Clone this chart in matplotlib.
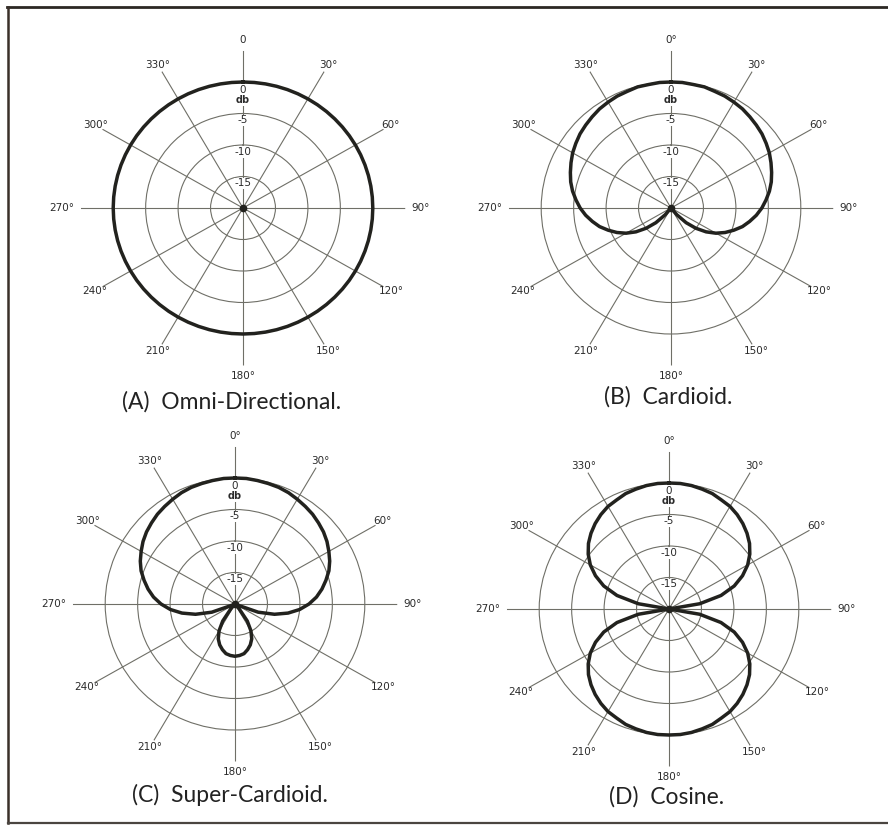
import numpy as np
import matplotlib.pyplot as plt
from matplotlib.lines import Line2D

# relative response in dB, every 5 degrees from 0 to 180 (each pattern is symmetric)
angles_half = np.arange(0, 185, 5)
omni_db = [0.0] * 37
cardioid_db = [0, 0, -0.1, -0.1, -0.3, -0.4, -0.6, -0.8, -1.1, -1.4, -1.7, -2.1,
               -2.5, -3.0, -3.5, -4.0, -4.6, -5.3, -6.0, -6.8, -7.7, -8.6, -9.7,
               -10.8, -12.0, -13.4, -15.0, -16.7, -18.6, -20, -20, -20, -20, -20,
               -20, -20, -20]
supercardioid_db = [0, 0, -0.1, -0.2, -0.3, -0.5, -0.8, -1.1, -1.4, -1.8, -2.2,
                    -2.7, -3.3, -3.9, -4.6, -5.5, -6.4, -7.4, -8.6, -10.0, -11.7,
                    -13.7, -16.2, -19.7, -20, -20, -20, -20, -19.0, -16.7, -15.1,
                    -13.9, -13.1, -12.5, -12.0, -11.8, -11.7]
cosine_db = [0, 0, -0.1, -0.3, -0.5, -0.9, -1.2, -1.7, -2.3, -3.0, -3.8, -4.8,
             -6.0, -7.5, -9.3, -11.7, -15.2, -20, -20, -20, -15.2, -11.7, -9.3,
             -7.5, -6.0, -4.8, -3.8, -3.0, -2.3, -1.7, -1.2, -0.9, -0.5, -0.3,
             -0.1, 0, 0]

spoke_angles = np.arange(0, 360, 30)
labels_plain = ['0', '30°', '60°', '90°', '120°', '150°', '180°', '210°', '240°',
                '270°', '300°', '330°']
labels_deg = ['0°'] + labels_plain[1:]
ring_levels = [0, -5, -10, -15]
ring_texts = ['0', '-5', '-10', '-15']
titles = ['(A)  Omni-Directional.', '(B)  Cardioid.', '(C)  Super-Cardioid.',
          '(D)  Cosine.']

FW, FH = 888, 826
W, H = 324.5, 315.0          # axes box in pixels (slightly wider than tall)
FLOOR = 20                   # -20 dB sits at the centre
GRID = '#6f6f67'
INK = '#22221e'

fig = plt.figure(figsize=(FW / 100, FH / 100), dpi=100)
fig.patch.set_facecolor('white')


def full_circle(vals):
    ang = np.concatenate([angles_half, 360 - angles_half[-2::-1]])
    v = np.concatenate([vals, np.asarray(vals)[-2::-1]])
    return np.deg2rad(ang), np.maximum(v + FLOOR, 0)


def draw_panel(center, db, tick_labels, title, title_xy):
    cx, cy = center
    ax = fig.add_axes([(cx - W / 2) / FW, (FH - cy - H / 2) / FH, W / FW, H / FH],
                      projection='polar')
    ax.set_aspect('auto')
    ax.set_theta_zero_location('N')
    ax.set_theta_direction(-1)
    ax.set_ylim(0, 25)
    ax.set_thetagrids(spoke_angles, labels=[])
    ax.set_rgrids([5, 10, 15, 20], labels=[])
    ax.grid(True, color=GRID, lw=0.8)
    ax.spines['polar'].set_visible(False)
    ax.set_facecolor('none')

    for a, s in zip(spoke_angles, tick_labels):
        th = np.deg2rad(a)
        if a == 90:
            ax.text(th, 26.0, s, ha='left', va='center', fontsize=7.5, color='#2a2a2a')
        elif a == 270:
            ax.text(th, 26.0, s, ha='right', va='center', fontsize=7.5, color='#2a2a2a')
        else:
            r = 26.6 if a in (0, 180) else 26.3
            ax.text(th, r, s, ha='center', va='center', fontsize=7.5, color='#2a2a2a')

    box = dict(boxstyle='square,pad=0.08', fc='white', ec='none')
    for lev, s in zip(ring_levels, ring_texts):
        r = lev + FLOOR - 1.3 if lev == 0 else lev + FLOOR - 1.1
        ax.text(0, r, s, ha='center', va='center', fontsize=7.5, color='#2a2a2a',
                bbox=box, zorder=4)
    ax.text(0, 17.1, 'db', ha='center', va='center', fontsize=7, fontweight='bold',
            color='#2a2a2a', bbox=box, zorder=4)

    th, r = full_circle(db)
    ax.plot(th, r, color=INK, lw=2.5, solid_joinstyle='round', zorder=5)
    ax.plot([0], [0], 'o', color=INK, ms=4.5, zorder=6)

    fig.text(title_xy[0] / FW, 1 - title_xy[1] / FH, title, ha='center', va='center',
             fontsize=16.5, family='Lato', color='#222222')


draw_panel((243, 208), omni_db, labels_plain, titles[0], (232, 402))
draw_panel((671, 208), cardioid_db, labels_deg, titles[1], (668, 397))
draw_panel((235, 604), supercardioid_db, labels_deg, titles[2], (230, 795))
draw_panel((669, 609), cosine_db, labels_deg, titles[3], (667, 797))

# outer border
for xs, ys, c, w in [([7, 888], [7, 7], '#2c2824', 2.0),
                     ([8, 8], [7, 823], '#3a3029', 1.8),
                     ([8, 888], [823, 823], '#4a4540', 1.6)]:
    fig.add_artist(Line2D(np.array(xs) / FW, 1 - np.array(ys) / FH,
                          color=c, lw=w, transform=fig.transFigure))

fig.savefig('out.png', dpi=100, facecolor='white')
